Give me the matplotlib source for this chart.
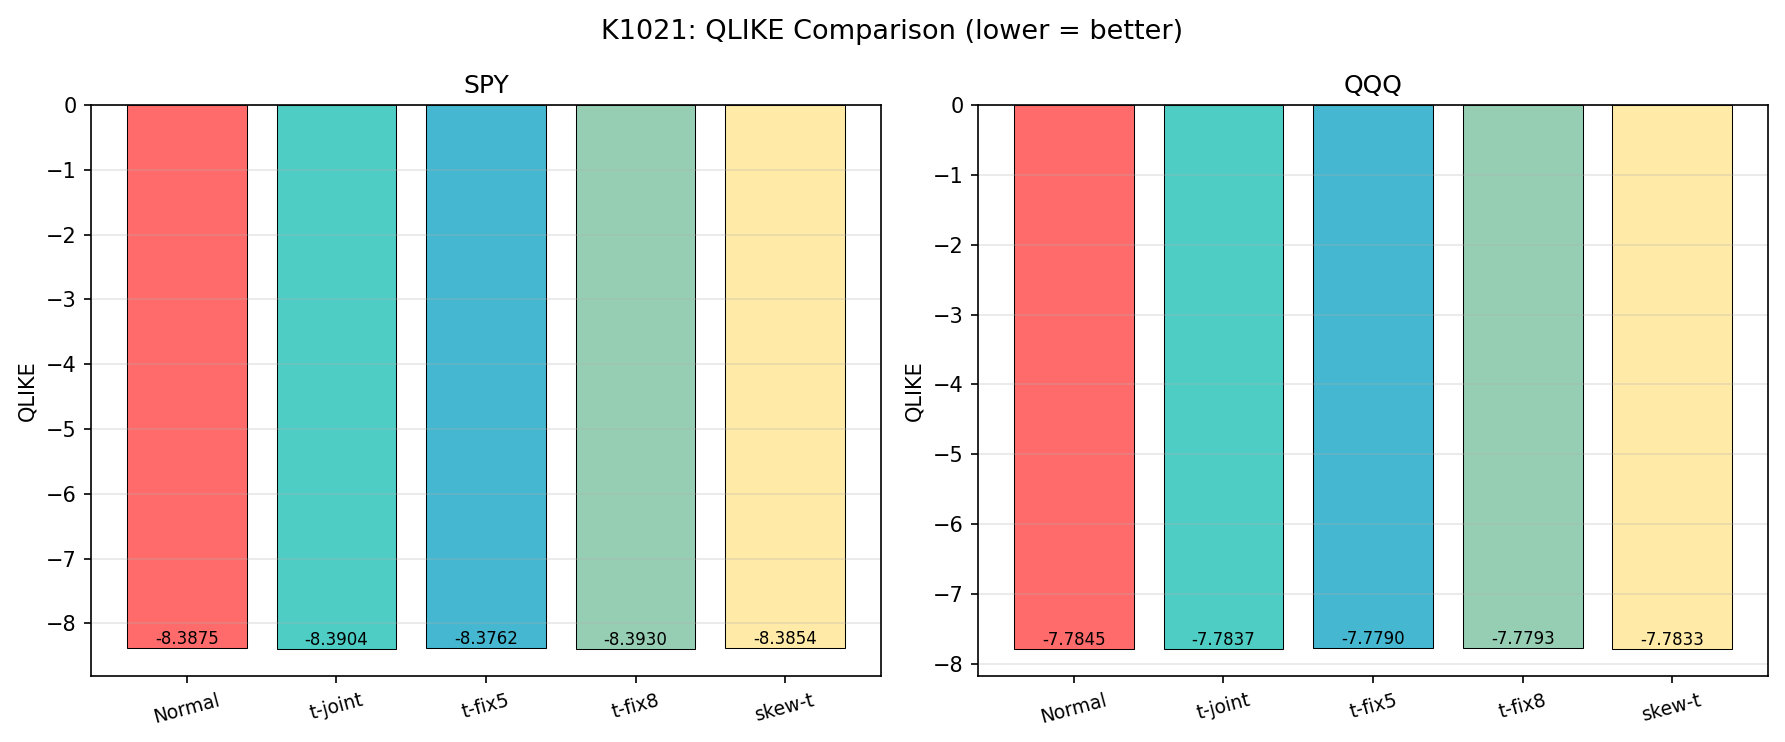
import numpy as np
import matplotlib.pyplot as plt

models = ["Normal", "t-joint", "t-fix5", "t-fix8", "skew-t"]
spy_qlike = [-8.3875, -8.3904, -8.3762, -8.3930, -8.3854]
qqq_qlike = [-7.7845, -7.7837, -7.7790, -7.7793, -7.7833]
tickers = ["SPY", "QQQ"]
colors = ["#FF6B6B", "#4ECDC4", "#45B7D1", "#96CEB4", "#FFEAA7"]

fig, axes = plt.subplots(1, 2, figsize=(11.9, 4.947), dpi=150)

for ax, ticker, vals in zip(axes, tickers, [spy_qlike, qqq_qlike]):
    x = np.arange(len(models))
    bars = ax.bar(x, vals, color=colors, edgecolor="black", linewidth=0.5)
    for bar, v in zip(bars, vals):
        ax.text(bar.get_x() + bar.get_width() / 2, bar.get_height(),
                f"{v:.4f}", ha="center", va="bottom", fontsize=8)
    ax.set_xticks(x)
    ax.set_xticklabels(models, rotation=15, fontsize=9)
    ax.set_ylabel("QLIKE")
    ax.set_title(ticker)
    ax.grid(axis="y", alpha=0.3)

fig.suptitle("K1021: QLIKE Comparison (lower = better)", fontsize=13, y=0.975)
fig.subplots_adjust(left=0.051, right=0.9905, top=0.8585, bottom=0.089, wspace=0.123)
fig.savefig("out.png", dpi=150)
